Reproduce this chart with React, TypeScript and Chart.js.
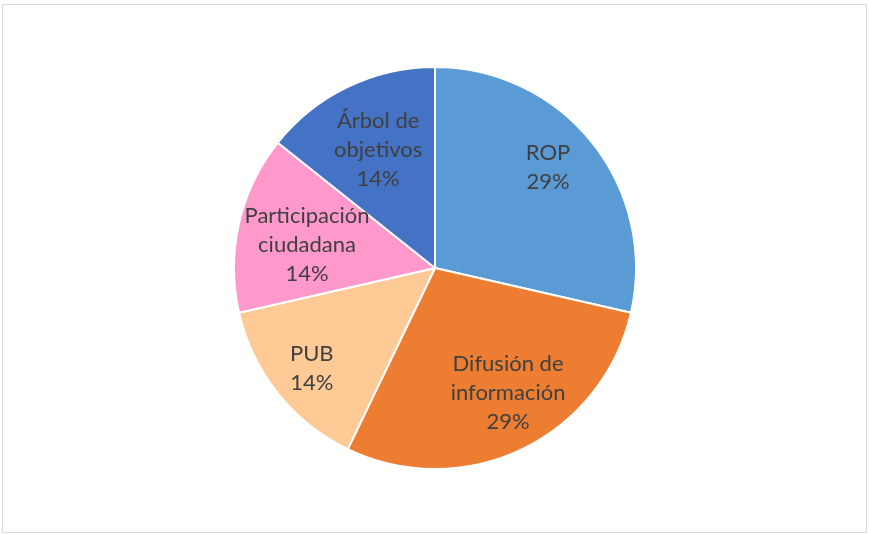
import React, { useEffect, useRef } from "react";
import { Chart, registerables } from "chart.js";

Chart.register(...registerables);

const categories: string[][] = [
  ["ROP"],
  ["Difusión de", "información"],
  ["PUB"],
  ["Participación", "ciudadana"],
  ["Árbol de", "objetivos"],
];
const values: number[] = [2, 2, 1, 1, 1];
const colors: string[] = ["#5B9BD5", "#ED7D31", "#FFCA96", "#FF99CC", "#4472C4"];
// label placement style (fraction of radius, angle shift in degrees)
const labelRadiusFraction: number[] = [0.754, 0.72, 0.79, 0.647, 0.652];
const labelAngleShift: number[] = [-3.2, -4.6, -0.5, -2.7, 0];

const labelPlugin = {
  id: "sliceLabels",
  afterDatasetsDraw(chart: any) {
    const ctx = chart.ctx;
    const meta = chart.getDatasetMeta(0);
    const data = chart.data.datasets[0].data as number[];
    const total = data.reduce((a: number, b: number) => a + b, 0);
    ctx.save();
    ctx.fillStyle = "#404040";
    ctx.font = "22px Lato, 'Open Sans', sans-serif";
    ctx.textAlign = "center";
    ctx.textBaseline = "middle";
    const lh = 29;
    meta.data.forEach((arc: any, i: number) => {
      const p = arc.getProps(["x", "y", "startAngle", "endAngle", "outerRadius"], true);
      const mid = (p.startAngle + p.endAngle) / 2 + (labelAngleShift[i] * Math.PI) / 180;
      const r = p.outerRadius * labelRadiusFraction[i];
      const cx = p.x + Math.cos(mid) * r;
      const cy = p.y + Math.sin(mid) * r;
      const pct = Math.round((data[i] / total) * 100) + "%";
      const lines = [...categories[i], pct];
      const start = cy - ((lines.length - 1) * lh) / 2;
      lines.forEach((t, j) => ctx.fillText(t, cx, start + j * lh));
    });
    ctx.restore();
  },
};

export default function App() {
  const ref = useRef<HTMLCanvasElement>(null);
  useEffect(() => {
    document.body.style.margin = "0";
    const chart = new Chart(ref.current!, {
      type: "pie",
      data: {
        labels: categories.map((c) => c.join(" ")),
        datasets: [
          {
            data: values,
            backgroundColor: colors,
            borderColor: "#FFFFFF",
            borderWidth: 2,
          },
        ],
      },
      options: {
        animation: false,
        responsive: false,
        maintainAspectRatio: false,
        layout: { padding: { left: 233, right: 232, top: 66, bottom: 64 } },
        plugins: {
          legend: { display: false },
          tooltip: { enabled: false },
        },
      },
      plugins: [labelPlugin],
    });
    return () => chart.destroy();
  }, []);
  return (
    <div style={{ position: "relative", width: 869, height: 534, background: "#fff" }}>
      <div
        style={{
          position: "absolute",
          left: 2,
          top: 4,
          width: 863,
          height: 527,
          border: "1px solid #D9D9D9",
        }}
      />
      <canvas
        ref={ref}
        width={869}
        height={534}
        style={{ position: "absolute", left: 0, top: 0, width: 869, height: 534 }}
      />
    </div>
  );
}
